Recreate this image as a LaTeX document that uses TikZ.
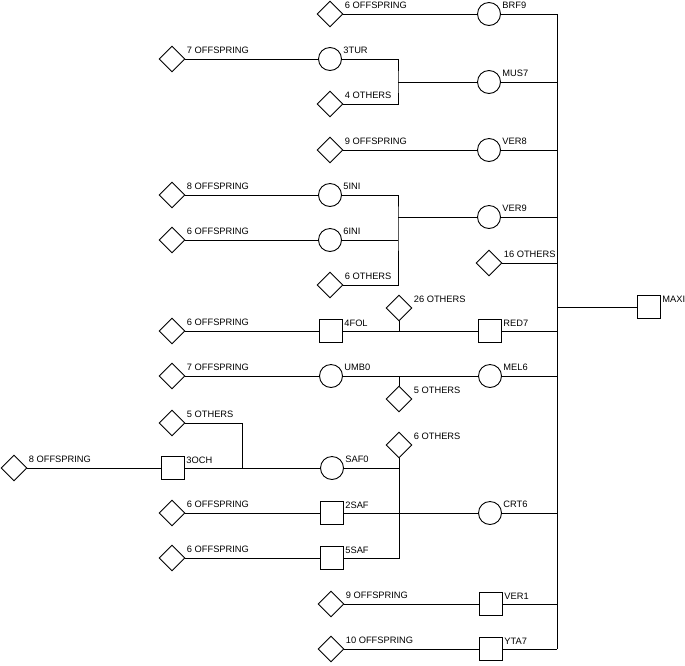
\documentclass[tikz,border=0pt]{standalone}
\usepackage{fontspec}
\setmainfont{Liberation Sans}
\usetikzlibrary{shapes.geometric}
\begin{document}
\begin{tikzpicture}[x=1pt,y=-1pt,
  line width=0.9pt,
  every node/.style={font=\fontsize{9.3}{10}\selectfont},
  lab/.style={anchor=base west,inner sep=0pt,xshift=1pt,yshift=5.5pt},
  slab/.style={anchor=base west,inner sep=0pt,xshift=1pt,yshift=4.5pt},
  fem/.style={circle,draw,fill=white,minimum size=23pt,inner sep=0pt},
  mal/.style={rectangle,draw,fill=white,minimum size=23pt,inner sep=0pt},
  unk/.style={diamond,aspect=1,draw,fill=white,minimum size=26pt,inner sep=0pt}]
\useasboundingbox (0,0) rectangle (685,665);
\coordinate (bar) at (557,0);
% ---- nodes
\node[unk,label={[lab]0:6 OFFSPRING}] (dBRF) at (330,14) {};
\node[fem,label={[lab]0:BRF9}] (BRF9) at (489,14) {};
\node[unk,label={[lab]0:7 OFFSPRING}] (dTUR) at (172,59) {};
\node[fem,label={[lab]0:3TUR}] (TUR3) at (330,59) {};
\node[fem,label={[lab]0:MUS7}] (MUS7) at (489,82) {};
\node[unk,label={[lab]0:4 OTHERS}] (o4) at (330,104) {};
\node[unk,label={[lab]0:9 OFFSPRING}] (dVER8) at (330,150) {};
\node[fem,label={[lab]0:VER8}] (VER8) at (489,150) {};
\node[unk,label={[lab]0:8 OFFSPRING}] (dINI5) at (172,195) {};
\node[fem,label={[lab]0:5INI}] (INI5) at (330,195) {};
\node[fem,label={[lab]0:VER9}] (VER9) at (489,217) {};
\node[unk,label={[lab]0:6 OFFSPRING}] (dINI6) at (172,240) {};
\node[fem,label={[lab]0:6INI}] (INI6) at (330,240) {};
\node[unk,label={[lab]0:16 OTHERS}] (o16) at (489,263) {};
\node[unk,label={[lab]0:6 OTHERS}] (o6a) at (330,285) {};
\node[unk,label={[lab]0:26 OTHERS}] (o26) at (399,308) {};
\node[unk,label={[lab]0:6 OFFSPRING}] (dFOL) at (172,331) {};
\node[mal,label={[slab]0:4FOL}] (FOL4) at (331,331) {};
\node[mal,label={[slab]0:RED7}] (RED7) at (490,331) {};
\node[mal,label={[slab]0:MAXI}] (MAXI) at (649,307) {};
\node[unk,label={[lab]0:7 OFFSPRING}] (dUMB) at (172,376) {};
\node[fem,label={[lab]0:UMB0}] (UMB0) at (331,376) {};
\node[fem,label={[lab]0:MEL6}] (MEL6) at (490,376) {};
\node[unk,label={[lab]0:5 OTHERS}] (o5b) at (399,399) {};
\node[unk,label={[lab]0:5 OTHERS}] (o5a) at (172,423) {};
\node[unk,label={[lab]0:6 OTHERS}] (o6b) at (399,445) {};
\node[unk,label={[lab]0:8 OFFSPRING}] (dOCH) at (14,468) {};
\node[mal,label={[slab]0:3OCH}] (OCH3) at (173,468) {};
\node[fem,label={[lab]0:SAF0}] (SAF0) at (332,468) {};
\node[unk,label={[lab]0:6 OFFSPRING}] (dSAF2) at (172,513) {};
\node[mal,label={[slab]0:2SAF}] (SAF2) at (332,513) {};
\node[fem,label={[lab]0:CRT6}] (CRT6) at (490,513) {};
\node[unk,label={[lab]0:6 OFFSPRING}] (dSAF5) at (172,558) {};
\node[mal,label={[slab]0:5SAF}] (SAF5) at (332,558) {};
\node[unk,label={[lab]0:9 OFFSPRING}] (dVER1) at (331,604) {};
\node[mal,label={[slab]0:VER1}] (VER1) at (491,604) {};
\node[unk,label={[lab]0:10 OFFSPRING}] (dYTA) at (331,649) {};
\node[mal,label={[slab]0:YTA7}] (YTA7) at (491,649) {};
\coordinate (j1) at (398,82);
\coordinate (j2) at (398,217);
\coordinate (j3) at (242,468);
% ---- connectors
\draw (dBRF.east) -- (BRF9.west);
\draw (dTUR.east) -- (TUR3.west);
\draw (TUR3.east) -| (j1) |- (o4.east);
\draw (j1) -- (MUS7.west);
\draw (dVER8.east) -- (VER8.west);
\draw (dINI5.east) -- (INI5.west);
\draw (dINI6.east) -- (INI6.west);
\draw (INI5.east) -| (j2) |- (o6a.east);
\draw (INI6.east) -- (INI6 -| j2);
\draw (j2) -- (VER9.west);
\draw (dFOL.east) -- (FOL4.west);
\draw (FOL4.east) -- (RED7.west);
\draw (o26.south) -- (o26.south |- FOL4);
\draw (dUMB.east) -- (UMB0.west);
\draw (UMB0.east) -- (MEL6.west);
\draw (o5b.north) -- (o5b.north |- UMB0);
\draw (dOCH.east) -- (OCH3.west);
\draw (OCH3.east) -- (SAF0.west);
\draw (o5a.east) -| (j3);
\draw (SAF0.east) -- (SAF0 -| o6b);
\draw (o6b.south) -- (o6b.south |- SAF5) -- (SAF5.east);
\draw (dSAF2.east) -- (SAF2.west);
\draw (SAF2.east) -- (CRT6.west);
\draw (dSAF5.east) -- (SAF5.west);
\draw (dVER1.east) -- (VER1.west);
\draw (dYTA.east) -- (YTA7.west);
% main bar
\draw (BRF9 -| bar) -- (YTA7 -| bar);
\foreach \n in {BRF9,MUS7,VER8,VER9,o16,RED7,MEL6,CRT6,VER1,YTA7}
  \draw (\n.east) -- (\n -| bar);
\draw (MAXI.west) -- (MAXI -| bar);
\end{tikzpicture}
\end{document}
